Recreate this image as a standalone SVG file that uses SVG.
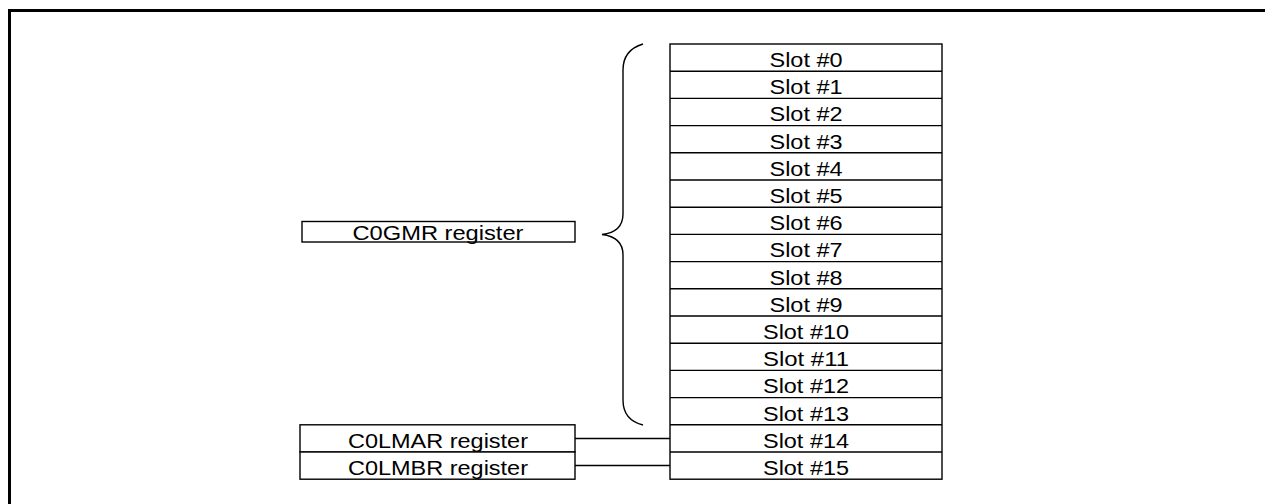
<svg xmlns="http://www.w3.org/2000/svg" width="1265" height="504" viewBox="0 0 1265 504">
<style>
.box{fill:#fff;stroke:#000;stroke-width:1.4}
.t{font-family:"Liberation Sans",Arial,sans-serif;font-size:20px;fill:#000;text-anchor:middle}
.ln{fill:none;stroke:#000;stroke-width:1.4}
</style>
<rect x="0" y="0" width="1265" height="504" fill="#fff"/>
<path d="M9.5 520 V10.5 H1280" fill="none" stroke="#000" stroke-width="3"/>
<g id="slots">
<rect class="box" x="670" y="44" width="272" height="435.2"/>
<g class="ln">
<path d="M670 71.2H942M670 98.4H942M670 125.6H942M670 152.8H942M670 180H942M670 207.2H942M670 234.4H942M670 261.6H942M670 288.8H942M670 316H942M670 343.2H942M670 370.4H942M670 397.6H942M670 424.8H942M670 452H942"/>
</g>
<g class="t" lengthAdjust="spacingAndGlyphs">
<text x="806" y="67" textLength="73" lengthAdjust="spacingAndGlyphs">Slot #0</text>
<text x="806" y="94.2" textLength="73" lengthAdjust="spacingAndGlyphs">Slot #1</text>
<text x="806" y="121.4" textLength="73" lengthAdjust="spacingAndGlyphs">Slot #2</text>
<text x="806" y="148.6" textLength="73" lengthAdjust="spacingAndGlyphs">Slot #3</text>
<text x="806" y="175.8" textLength="73" lengthAdjust="spacingAndGlyphs">Slot #4</text>
<text x="806" y="203" textLength="73" lengthAdjust="spacingAndGlyphs">Slot #5</text>
<text x="806" y="230.2" textLength="73" lengthAdjust="spacingAndGlyphs">Slot #6</text>
<text x="806" y="257.4" textLength="73" lengthAdjust="spacingAndGlyphs">Slot #7</text>
<text x="806" y="284.6" textLength="73" lengthAdjust="spacingAndGlyphs">Slot #8</text>
<text x="806" y="311.8" textLength="73" lengthAdjust="spacingAndGlyphs">Slot #9</text>
<text x="806" y="339" textLength="86" lengthAdjust="spacingAndGlyphs">Slot #10</text>
<text x="806" y="366.2" textLength="86" lengthAdjust="spacingAndGlyphs">Slot #11</text>
<text x="806" y="393.4" textLength="86" lengthAdjust="spacingAndGlyphs">Slot #12</text>
<text x="806" y="420.6" textLength="86" lengthAdjust="spacingAndGlyphs">Slot #13</text>
<text x="806" y="447.8" textLength="86" lengthAdjust="spacingAndGlyphs">Slot #14</text>
<text x="806" y="475" textLength="86" lengthAdjust="spacingAndGlyphs">Slot #15</text>
</g>
</g>
<g id="c0gmr">
<rect class="box" x="302" y="221.5" width="273" height="20.5"/>
<text class="t" x="438" y="239.5" textLength="171" lengthAdjust="spacingAndGlyphs">C0GMR register</text>
</g>
<g id="c0lmar">
<rect class="box" x="300" y="424.8" width="275" height="27.2"/>
<text class="t" x="438" y="447.8" textLength="180" lengthAdjust="spacingAndGlyphs">C0LMAR register</text>
</g>
<g id="c0lmbr">
<rect class="box" x="300" y="452" width="275" height="27.2"/>
<text class="t" x="438" y="475" textLength="180" lengthAdjust="spacingAndGlyphs">C0LMBR register</text>
</g>
<g id="connectors" class="ln">
<path d="M643 44 Q623 50 623 70 V214 Q623 232 602 234.5 Q623 237 623 255 V400 Q623 420 643 425"/>
<path d="M575 438.5H670"/>
<path d="M575 465.5H670"/>
</g>
</svg>
